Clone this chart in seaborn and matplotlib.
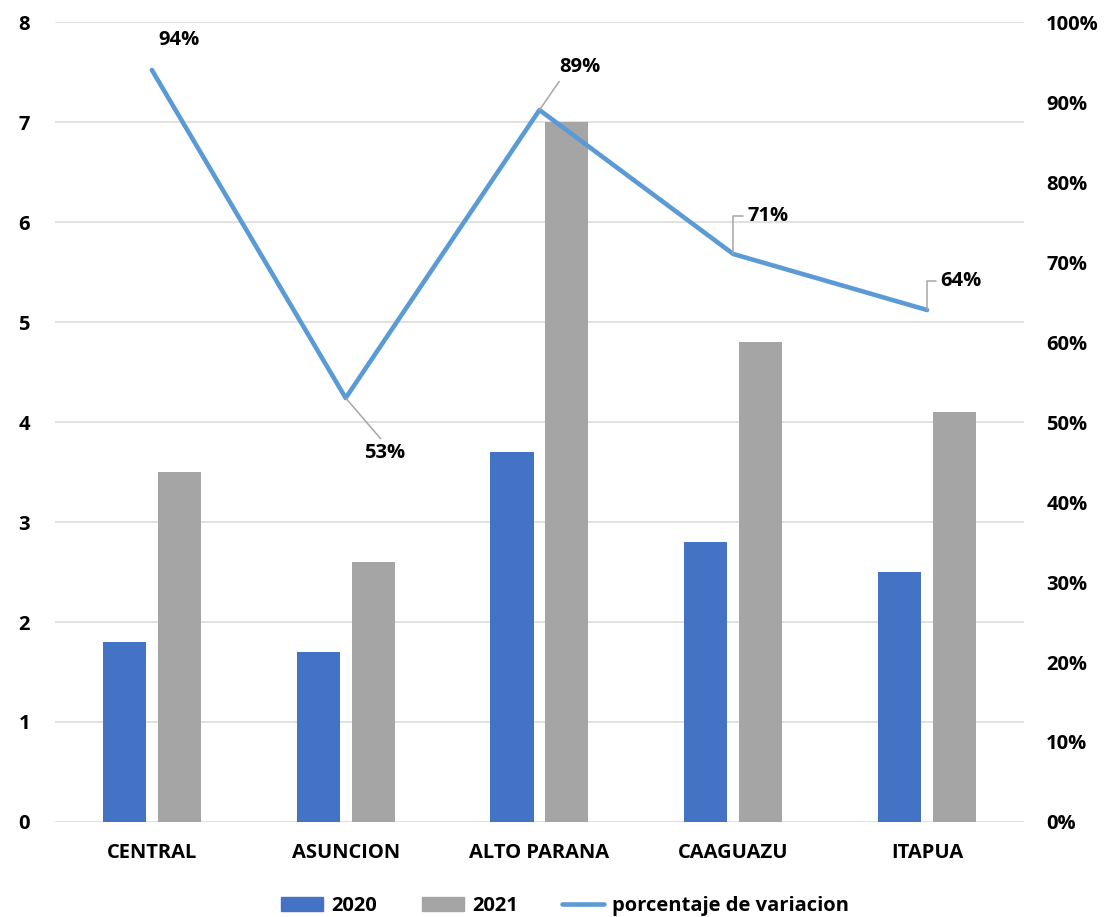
import matplotlib
matplotlib.use("Agg")
import matplotlib.pyplot as plt
import seaborn as sns
import pandas as pd
from matplotlib.patches import Patch
from matplotlib.lines import Line2D

categories = ["CENTRAL", "ASUNCION", "ALTO PARANA", "CAAGUAZU", "ITAPUA"]
values_2020 = [1.8, 1.7, 3.7, 2.8, 2.5]
values_2021 = [3.5, 2.6, 7.0, 4.8, 4.1]
variacion = [0.94, 0.53, 0.89, 0.71, 0.64]
left_ticks = [0, 1, 2, 3, 4, 5, 6, 7, 8]
right_ticks = [0, 0.1, 0.2, 0.3, 0.4, 0.5, 0.6, 0.7, 0.8, 0.9, 1.0]

sns.set_style("white")
plt.rcParams['font.family'] = ['Open Sans', 'DejaVu Sans']
plt.rcParams['font.weight'] = 'bold'
plt.rcParams['text.color'] = 'black'

C2020 = "#4472C4"
C2021 = "#A5A5A5"
CLINE = "#5B9BD5"
FS = 14.5

df = pd.DataFrame({
    "cat": categories * 2,
    "year": ["2020"] * 5 + ["2021"] * 5,
    "val": values_2020 + values_2021,
})

fig = plt.figure(figsize=(11.04, 9.17), dpi=100)
ax = fig.add_axes([0.0498, 0.1036, 0.8777, 0.8724])
sns.barplot(data=df, x="cat", y="val", hue="year", order=categories,
            palette=[C2020, C2021], width=0.567, gap=0.217, ax=ax,
            legend=False, saturation=1, linewidth=0)
ax.set_ylim(0, 8)
ax.set_xlim(-0.5, 4.5)
ax.set_yticks(left_ticks)
ax.set_yticklabels([str(t) for t in left_ticks], fontsize=FS, fontweight='bold')
ax.tick_params(axis='y', length=0, pad=18, labelcolor='black')
ax.tick_params(axis='x', length=0, pad=15, labelsize=FS, labelcolor='black')
for lbl in ax.get_xticklabels():
    lbl.set_fontweight('bold')
ax.set_xlabel("")
ax.set_ylabel("")
ax.yaxis.grid(True, color="#D9D9D9", linewidth=1.1)
ax.set_axisbelow(True)
for s in ax.spines.values():
    s.set_visible(False)

ax2 = ax.twinx()
ax2.plot(range(len(categories)), variacion, color=CLINE, linewidth=3.3,
         solid_capstyle='round', solid_joinstyle='round')
ax2.set_ylim(0, 1)
ax2.set_yticks(right_ticks)
ax2.set_yticklabels([f"{int(round(t*100))}%" for t in right_ticks], fontsize=FS, fontweight='bold')
ax2.tick_params(axis='y', length=0, pad=16, labelcolor='black')
for s in ax2.spines.values():
    s.set_visible(False)

lead = dict(arrowstyle='-', color="#A6A6A6", lw=1.1, shrinkA=1, shrinkB=0)
labels = [f"{int(round(v*100))}%" for v in variacion]
# 94%
ax2.annotate(labels[0], xy=(0, variacion[0]), xytext=(27, 30), textcoords='offset pixels',
             ha='center', va='center', fontsize=FS, fontweight='bold')
# 53%
ax2.annotate(labels[1], xy=(1, variacion[1]), xytext=(39, -55), textcoords='offset pixels',
             ha='center', va='center', fontsize=FS, fontweight='bold',
             arrowprops=dict(lead, relpos=(0.45, 1.1)))
# 89%
ax2.annotate(labels[2], xy=(2, variacion[2]), xytext=(40, 43), textcoords='offset pixels',
             ha='center', va='center', fontsize=FS, fontweight='bold',
             arrowprops=dict(lead, relpos=(0.05, -0.1)))
# 71%
ax2.annotate(labels[3], xy=(3, variacion[3]), xytext=(35, 38), textcoords='offset pixels',
             ha='center', va='center', fontsize=FS, fontweight='bold',
             arrowprops=dict(lead, relpos=(0, 0.5),
                             connectionstyle="angle,angleA=0,angleB=90,rad=0"))
# 64%
ax2.annotate(labels[4], xy=(4, variacion[4]), xytext=(34, 29), textcoords='offset pixels',
             ha='center', va='center', fontsize=FS, fontweight='bold',
             arrowprops=dict(lead, relpos=(0, 0.5),
                             connectionstyle="angle,angleA=0,angleB=90,rad=0"))

handles = [Patch(color=C2020), Patch(color=C2021),
           Line2D([0], [0], color=CLINE, linewidth=3.3, solid_capstyle='round')]
fig.legend(handles, ["2020", "2021", "porcentaje de variacion"], loc='center',
           bbox_to_anchor=(0.512, 0.012), ncol=3, frameon=False,
           prop={'size': FS, 'weight': 'bold'}, handlelength=2.1, handleheight=0.75,
           columnspacing=2.2, handletextpad=0.4)

fig.savefig("out.png", dpi=100)
